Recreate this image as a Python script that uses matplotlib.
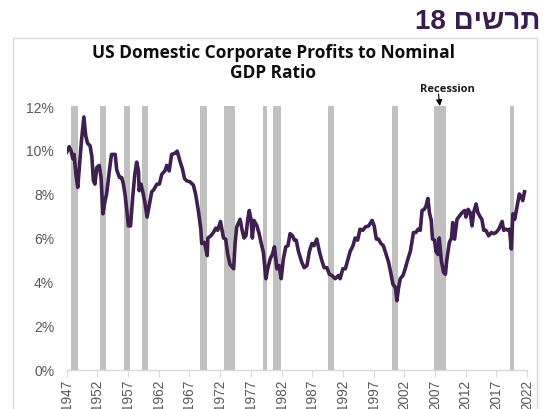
import matplotlib
matplotlib.use("Agg")
import matplotlib.pyplot as plt
from matplotlib.patches import Rectangle
from matplotlib.ticker import FuncFormatter

# ---- data ----
years = [1947.0, 1947.4, 1947.7, 1948.0, 1948.2, 1948.5, 1948.8, 1949.05, 1949.4, 1949.8,
         1950.1, 1950.4, 1950.8, 1951.1, 1951.35, 1951.6, 1951.9, 1952.3, 1952.6, 1952.9,
         1953.25, 1953.5, 1953.95, 1954.3, 1954.9, 1955.15, 1955.6, 1955.95, 1956.2, 1956.5,
         1956.8, 1957.05, 1957.4, 1957.75, 1958.1, 1958.4, 1958.7, 1958.8, 1959.1, 1959.4,
         1959.75, 1960.1, 1960.5, 1960.85, 1961.2, 1961.7, 1962.1, 1962.5, 1963.0, 1963.3,
         1963.7, 1964.1, 1964.65, 1965.0, 1965.5, 1965.85, 1966.2, 1966.55, 1967.1, 1967.65,
         1968.0, 1968.45, 1968.85, 1969.0, 1969.45, 1969.9, 1970.0, 1970.5, 1970.9, 1971.3,
         1971.6, 1972.05, 1972.55, 1972.9, 1973.25, 1973.6, 1974.2, 1974.45, 1974.7, 1975.25,
         1975.55, 1975.9, 1976.2, 1976.5, 1976.75, 1977.05, 1977.25, 1977.5, 1978.0, 1978.35,
         1978.7, 1979.05, 1979.45, 1979.75, 1980.15, 1980.5, 1980.85, 1981.25, 1981.6, 1981.95,
         1982.3, 1982.7, 1983.05, 1983.4, 1983.8, 1984.1, 1984.4, 1984.75, 1985.3, 1985.7,
         1986.15, 1986.55, 1986.95, 1987.3, 1987.75, 1988.2, 1988.6, 1988.95, 1989.4, 1989.8,
         1990.2, 1990.75, 1991.3, 1991.55, 1992.0, 1992.4, 1992.75, 1993.2, 1993.65, 1994.0,
         1994.4, 1994.8, 1995.25, 1995.65, 1996.2, 1996.75, 1997.1, 1997.45, 1997.8, 1998.2,
         1998.6, 1999.05, 1999.45, 1999.85, 2000.15, 2000.55, 2000.8, 2001.05, 2001.35, 2001.8,
         2002.15, 2002.55, 2003.0, 2003.5, 2003.9, 2004.25, 2004.6, 2004.9, 2005.25, 2005.55,
         2005.85, 2006.1, 2006.4, 2006.6, 2006.95, 2007.15, 2007.5, 2007.7, 2008.05, 2008.4,
         2008.7, 2008.95, 2009.35, 2009.7, 2009.9, 2010.2, 2010.6, 2011.0, 2011.4, 2011.85,
         2012.05, 2012.4, 2012.75, 2013.05, 2013.3, 2013.7, 2014.0, 2014.4, 2014.65, 2014.95,
         2015.3, 2015.75, 2016.2, 2016.55, 2016.95, 2017.4, 2017.95, 2018.2, 2018.6, 2018.9,
         2019.15, 2019.45, 2019.7, 2020.0, 2020.4, 2020.75, 2021.1, 2021.3, 2021.6]
ratio_pct = [9.9, 10.15, 9.97, 9.6, 9.8, 8.9, 8.3, 9.2, 10.4, 11.5,
             10.65, 10.3, 10.2, 9.7, 8.6, 8.45, 9.2, 9.3, 8.75, 7.1,
             7.7, 8.0, 9.05, 9.8, 9.8, 9.1, 8.75, 8.75, 8.5, 8.0,
             7.25, 6.55, 6.55, 7.85, 8.9, 9.45, 9.05, 8.15, 8.45, 8.1,
             7.6, 6.95, 7.55, 8.1, 8.2, 8.45, 8.45, 8.9, 9.05, 9.3,
             9.05, 9.8, 9.85, 9.95, 9.45, 9.15, 8.7, 8.6, 8.55, 8.4,
             8.0, 7.25, 6.4, 5.75, 5.8, 5.2, 6.0, 6.1, 6.25, 6.45,
             6.35, 6.75, 6.0, 5.95, 5.25, 4.8, 4.6, 5.8, 6.5, 6.85,
             6.4, 6.0, 6.1, 6.85, 7.25, 6.8, 6.0, 6.8, 6.55, 6.2,
             5.75, 5.35, 4.15, 4.6, 5.05, 5.25, 5.6, 4.6, 4.75, 4.15,
             5.05, 5.6, 5.65, 6.2, 6.1, 5.9, 5.9, 5.4, 4.9, 4.65,
             4.75, 5.4, 5.75, 5.65, 5.95, 5.35, 4.95, 4.65, 4.65, 4.35,
             4.3, 4.15, 4.3, 4.15, 4.6, 4.6, 4.95, 5.4, 5.65, 6.0,
             5.9, 6.4, 6.35, 6.5, 6.55, 6.8, 6.55, 5.95, 5.95, 5.75,
             5.65, 5.25, 4.9, 4.35, 3.9, 3.75, 3.15, 3.7, 4.15, 4.3,
             4.6, 5.0, 5.4, 6.25, 6.25, 6.4, 6.35, 7.25, 7.3, 7.45,
             7.8, 7.15, 6.8, 5.95, 5.9, 5.4, 5.25, 6.0, 4.95, 4.45,
             4.35, 5.05, 5.8, 6.0, 6.7, 5.95, 6.85, 7.0, 7.15, 7.25,
             6.95, 7.3, 7.15, 6.55, 7.15, 7.55, 7.15, 6.95, 6.85, 6.35,
             6.35, 6.1, 6.25, 6.2, 6.25, 6.4, 6.75, 6.35, 6.4, 6.35,
             6.4, 5.5, 7.1, 6.85, 7.45, 8.0, 7.85, 7.7, 8.1]

recession_start = [1947.70, 1952.48, 1956.40, 1959.23, 1968.75, 1972.71, 1979.00, 1980.55,
                   1989.50, 2000.00, 2006.80, 2019.15]
recession_end = [1948.89, 1953.46, 1957.33, 1960.21, 1969.84, 1974.46, 1979.67, 1981.91,
                 1990.50, 2001.00, 2008.80, 2019.85]

xtick_years = list(range(1947, 2023, 5))
ytick_vals = [0, 2, 4, 6, 8, 10, 12]

title_text = "US Domestic Corporate Profits to Nominal\nGDP Ratio"
header_text = "18 " + "תרשים"[::-1]
annot_text = "Recession"

# ---- figure ----
W, H = 545, 410
fig = plt.figure(figsize=(W / 100, H / 100), dpi=100)
fig.patch.set_facecolor("white")

def fx(px):
    return px / W

def fy(py):
    return 1 - py / H

# chart border
fig.patches.append(Rectangle((fx(13), fy(412)), fx(537) - fx(13), fy(39) - fy(412),
                             transform=fig.transFigure, fill=False,
                             edgecolor="#d9d9d9", linewidth=1.0, zorder=0))

ax = fig.add_axes([fx(66.7), fy(371), fx(527) - fx(66.7), fy(107) - fy(371)])
ax.set_xlim(1947, 2022)
ax.set_ylim(0, 12)

for s, e in zip(recession_start, recession_end):
    ax.axvspan(s, e, color="#c0c0c0", lw=0, zorder=1)

line_color = "#3f1f50"
ax.plot(years, ratio_pct, color=line_color, lw=2.6, zorder=3, solid_joinstyle="round")

for side in ["top", "right", "left"]:
    ax.spines[side].set_visible(False)
ax.spines["bottom"].set_color("#d9d9d9")
ax.spines["bottom"].set_linewidth(1.0)

ax.set_xticks(xtick_years)
ax.set_xticklabels([str(y) for y in xtick_years], rotation=90, fontsize=9.8,
                   color="#595959", family="Liberation Sans")
ax.tick_params(axis="x", length=5, color="#d9d9d9", pad=1.5)
ax.set_yticks(ytick_vals)
ax.yaxis.set_major_formatter(FuncFormatter(lambda v, p: f"{int(v)}%"))
ax.tick_params(axis="y", length=0, pad=9, labelsize=10, labelcolor="#595959")
for lab in ax.get_yticklabels():
    lab.set_family("Liberation Sans")

# title inside chart
fig.text(fx(273), fy(63), title_text, ha="center", va="center", fontsize=12.5,
         fontweight="bold", family=["Open Sans", "Liberation Sans"], color="#0d0d0d",
         linespacing=1.15)

# hebrew header
fig.text(fx(540), fy(22), header_text, ha="right", va="center", fontsize=20,
         fontweight="bold", family=["Liberation Sans", "DejaVu Sans"], color="#3b1d4c")

# recession annotation
fig.text(fx(447), fy(89), annot_text, ha="center", va="center", fontsize=8,
         fontweight="bold", family=["Open Sans", "Liberation Sans"], color="#1a1a1a")
ax.annotate("", xy=(2007.8, 12.0), xycoords="data",
            xytext=(fx(438.5), fy(95)), textcoords="figure fraction",
            arrowprops=dict(arrowstyle="-|>", color="black", lw=0.8,
                            mutation_scale=9, shrinkA=0, shrinkB=0),
            annotation_clip=False)

fig.savefig("out.png", dpi=100, facecolor="white")
